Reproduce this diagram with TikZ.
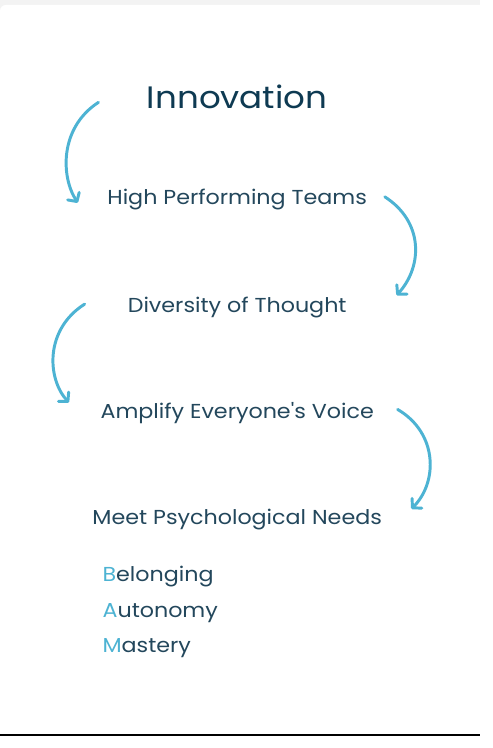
\documentclass[tikz,border=0pt]{standalone}
\usepackage{fontspec}
\setmainfont{Poppins}[FakeStretch=1.1,Ligatures=TeXOff]
\usetikzlibrary{arrows.meta}
\definecolor{navy}{HTML}{0E3A52}
\definecolor{txt}{HTML}{23475C}
\definecolor{sky}{HTML}{4DB3D3}
\definecolor{bg}{HTML}{F3F3F3}
\tikzset{
  lbl/.style={text=txt, font=\fontsize{20.6}{24}\selectfont, inner sep=0pt},
  curl/.style={draw=sky, line width=3bp, line cap=round,
    -{Straight Barb[length=6.5bp,width=14bp,line width=3bp,round]}}
}
\begin{document}
\begin{tikzpicture}[x=1bp,y=-1bp]
\fill[bg] (0,0) rectangle (488,748);
\fill[white, rounded corners=6bp] (0,5) rectangle (500,760);
\fill[black] (0,745.5) rectangle (488,748);
\useasboundingbox (0,0) rectangle (488,748);

\node[text=navy, font=\fontsize{31.6}{36}\selectfont, inner sep=0pt] (title) at (241,98) {Innovation};
\node[lbl] (hpt) at (241,203) {High Performing Teams};
\node[lbl] (dot) at (241,312) {Diversity of Thought};
\node[lbl] (aev) at (241,420) {Amplify Everyone's Voice};
\node[lbl] (mpn) at (241,528) {Meet Psychological Needs};
\node[lbl, anchor=west] (bel) at (104,586) {\textcolor{sky}{B}elonging};
\node[lbl, anchor=west] (aut) at (104,623) {\textcolor{sky}{A}utonomy};
\node[lbl, anchor=west] (mas) at (104,659) {\textcolor{sky}{M}astery};

\coordinate (a1s) at (100,104);
\coordinate (a1e) at (79,206);
\coordinate (a2s) at (391,200);
\coordinate (a2e) at (403,300);
\coordinate (a3s) at (86,309);
\coordinate (a3e) at (70,409);
\coordinate (a4s) at (404,416);
\coordinate (a4e) at (418,517);

\draw[curl] (a1s) .. controls (60,130) and (62,180) .. (a1e);
\draw[curl] (a2s) .. controls (430,225) and (430,270) .. (a2e);
\draw[curl] (a3s) .. controls (45,335) and (48,385) .. (a3e);
\draw[curl] (a4s) .. controls (445,440) and (445,490) .. (a4e);
\end{tikzpicture}
\end{document}
